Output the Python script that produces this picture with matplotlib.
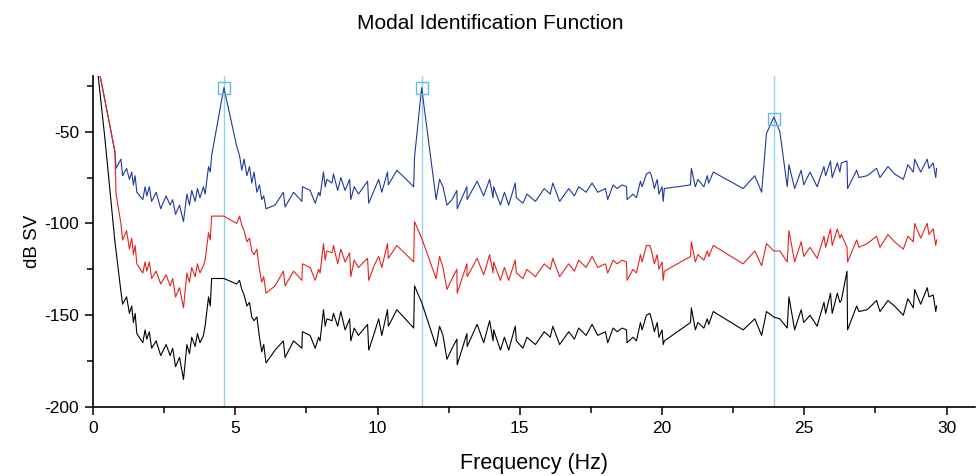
import matplotlib
matplotlib.use("Agg")
import matplotlib.pyplot as plt
from matplotlib import font_manager
from matplotlib.ticker import MultipleLocator


# frequency grid (Hz), shared by the three singular value curves
freq = [
    0.10, 0.42, 0.77, 0.81, 0.98, 1.04, 1.18, 1.28, 1.36, 1.42,
    1.48, 1.54, 1.75, 1.83, 1.89, 1.98, 2.06, 2.22, 2.38, 2.57,
    2.71, 2.80, 2.90, 3.04, 3.18, 3.30, 3.39, 3.47, 3.59, 3.67,
    3.76, 3.88, 3.94, 4.06, 4.12, 4.17, 4.60, 5.05, 5.15, 5.23,
    5.31, 5.41, 5.50, 5.58, 5.66, 5.76, 5.85, 5.93, 6.00, 6.08,
    6.40, 6.69, 6.75, 7.05, 7.34, 7.36, 7.63, 7.81, 7.93, 7.98,
    8.10, 8.16, 8.22, 8.40, 8.45, 8.60, 8.71, 8.86, 9.02, 9.06,
    9.18, 9.33, 9.65, 9.69, 9.88, 10.04, 10.15, 10.35, 10.38, 10.68,
    11.27, 11.30, 11.55, 12.06, 12.18, 12.30, 12.44, 12.62, 12.79, 12.80,
    13.14, 13.15, 13.50, 13.73, 13.94, 14.06, 14.08, 14.32, 14.46, 14.61,
    14.84, 14.88, 15.11, 15.25, 15.55, 15.86, 16.07, 16.16, 16.40, 16.72,
    16.92, 17.07, 17.33, 17.54, 17.74, 18.01, 18.09, 18.28, 18.42, 18.60,
    18.75, 18.77, 18.98, 19.10, 19.24, 19.30, 19.45, 19.57, 19.63, 19.73,
    19.83, 19.89, 20.00, 20.04, 20.08, 21.00, 21.03, 21.17, 21.26, 21.47,
    21.59, 21.64, 21.80, 22.85, 23.26, 23.50, 23.67, 23.93, 24.14, 24.40,
    24.46, 24.66, 24.89, 24.98, 25.20, 25.45, 25.69, 25.75, 25.92, 25.98,
    26.16, 26.25, 26.30, 26.50, 26.52, 26.84, 26.92, 27.21, 27.54, 27.66,
    27.94, 28.17, 28.48, 28.64, 28.83, 28.88, 29.09, 29.32, 29.38, 29.53,
    29.62, 29.65,
]

# first singular value (dB)
sv1 = [
    -8, -33, -61, -70, -65, -74, -70, -76, -72, -79,
    -74, -83, -87, -80, -85, -80, -88, -83, -92, -85,
    -90, -87, -95, -90, -99, -84, -90, -82, -88, -81,
    -86, -80, -84, -69, -72, -63, -26, -58, -63, -71,
    -65, -74, -69, -78, -72, -83, -79, -87, -85, -92,
    -90, -83, -91, -83, -88, -80, -82, -89, -83, -85,
    -72, -80, -76, -78, -73, -82, -75, -82, -76, -87,
    -80, -84, -77, -89, -82, -76, -83, -72, -79, -71,
    -80, -64, -26, -87, -76, -80, -90, -87, -82, -92,
    -80, -87, -77, -85, -76, -86, -80, -90, -83, -90,
    -78, -86, -89, -84, -88, -81, -84, -78, -88, -81,
    -85, -80, -83, -78, -83, -81, -87, -79, -81, -79,
    -80, -87, -84, -86, -77, -80, -73, -72, -74, -81,
    -76, -84, -80, -88, -81, -79, -70, -80, -76, -80,
    -74, -78, -72, -81, -74, -83, -51, -42, -50, -80,
    -68, -81, -71, -79, -72, -80, -69, -74, -66, -75,
    -67, -72, -67, -66, -81, -71, -75, -74, -70, -75,
    -69, -73, -76, -68, -72, -65, -72, -65, -70, -67,
    -75, -70,
]

# second singular value (dB)
sv2 = [
    -8, -33, -61, -84, -100, -109, -104, -114, -108, -117,
    -112, -122, -127, -121, -126, -121, -130, -126, -133, -128,
    -134, -130, -140, -135, -146, -127, -132, -124, -129, -122,
    -127, -123, -120, -105, -109, -96, -96, -100, -96, -101,
    -104, -110, -108, -115, -117, -114, -125, -132, -129, -138,
    -134, -126, -134, -126, -131, -122, -124, -131, -125, -127,
    -111, -120, -115, -116, -112, -122, -114, -121, -116, -129,
    -120, -124, -119, -131, -123, -118, -124, -111, -119, -112,
    -121, -99, -108, -130, -118, -124, -136, -130, -125, -138,
    -122, -129, -119, -128, -117, -127, -121, -131, -124, -131,
    -120, -127, -130, -125, -129, -122, -125, -119, -129, -122,
    -126, -120, -124, -118, -124, -122, -127, -120, -122, -120,
    -121, -131, -125, -127, -117, -121, -112, -112, -115, -122,
    -117, -125, -121, -131, -126, -118, -110, -121, -117, -120,
    -115, -118, -112, -122, -115, -123, -111, -115, -115, -121,
    -104, -121, -110, -118, -113, -119, -107, -113, -103, -112,
    -103, -108, -106, -113, -121, -109, -113, -111, -107, -113,
    -106, -110, -114, -107, -110, -100, -108, -100, -106, -103,
    -112, -109,
]

# third singular value (dB)
sv3 = [
    -8, -54, -110, -115, -137, -144, -140, -149, -145, -154,
    -149, -160, -165, -158, -163, -159, -168, -164, -172, -166,
    -172, -168, -178, -173, -185, -166, -171, -162, -167, -160,
    -165, -161, -156, -140, -145, -130, -130, -133, -131, -136,
    -139, -145, -143, -151, -153, -151, -162, -170, -166, -176,
    -169, -164, -173, -164, -168, -159, -161, -168, -162, -164,
    -147, -156, -152, -153, -149, -156, -148, -158, -152, -164,
    -157, -161, -155, -169, -160, -152, -161, -147, -156, -147,
    -157, -134, -143, -167, -156, -161, -174, -168, -163, -177,
    -160, -167, -155, -165, -153, -164, -158, -169, -162, -169,
    -156, -164, -168, -162, -166, -159, -162, -156, -166, -159,
    -163, -157, -161, -155, -161, -159, -165, -157, -159, -157,
    -158, -165, -162, -164, -154, -158, -150, -149, -152, -159,
    -154, -162, -158, -166, -164, -154, -146, -158, -154, -157,
    -152, -155, -148, -158, -152, -161, -148, -151, -152, -157,
    -140, -158, -147, -154, -150, -156, -143, -149, -138, -149,
    -138, -143, -142, -126, -158, -145, -148, -147, -142, -148,
    -142, -145, -150, -141, -146, -136, -144, -135, -140, -139,
    -148, -145,
]

# picked modes
peak_freq = [4.60, 11.55, 23.95]
peak_db = [-26, -26, -43]

x_ticks = [0, 5, 10, 15, 20, 25, 30]
y_ticks = [-200, -150, -100, -50]


##################################################

def pick_family():

    for name in ["Liberation Sans Narrow", "Liberation Sans", "DejaVu Sans"]:

        try:

            font_manager.findfont(name, fallback_to_default=False)

            return name

        except ValueError:

            continue

    return "DejaVu Sans"


plt.rcParams["font.family"] = pick_family()

plt.rcParams["axes.unicode_minus"] = False

fig = plt.figure(figsize=(9.76, 4.76), dpi=100)

ax = fig.add_axes([0.0953, 0.145, 0.9037, 0.696])

for f in peak_freq:

    ax.axvline(f, color="#8fd3ee", linewidth=1.0, zorder=1)

ax.plot(freq, sv1, color="#21399c", linewidth=0.8, zorder=2)

ax.plot(freq, sv2, color="#e5231d", linewidth=0.8, zorder=3)

ax.plot(freq, sv3, color="black", linewidth=0.8, zorder=4)

ax.plot(
    peak_freq, peak_db,
    linestyle="none",
    marker="s",
    markersize=8.5,
    markerfacecolor="none",
    markeredgecolor="#5bbde6",
    markeredgewidth=1.0,
    zorder=5
)

ax.set_xlim(0, 31)

ax.set_ylim(-200, -19.5)

ax.set_xticks(x_ticks)

ax.set_yticks(y_ticks)

ax.xaxis.set_minor_locator(MultipleLocator(2.5))

ax.yaxis.set_minor_locator(MultipleLocator(25))

ax.tick_params(which="major", direction="out", length=6, width=1.1,
               labelsize=12.5, pad=4)

ax.tick_params(which="minor", direction="out", length=4, width=1.1)

ax.spines["top"].set_visible(False)

ax.spines["right"].set_visible(False)

ax.spines["left"].set_linewidth(1.2)

ax.spines["bottom"].set_linewidth(1.2)

ax.set_xlabel("Frequency (Hz)", fontsize=15.5, labelpad=12)

ax.set_ylabel("dB SV", fontsize=13.5, labelpad=2)

fig.suptitle("Modal Identification Function", fontsize=15, x=0.502, y=0.97)

fig.savefig("out.png", dpi=100)

plt.close(fig)
